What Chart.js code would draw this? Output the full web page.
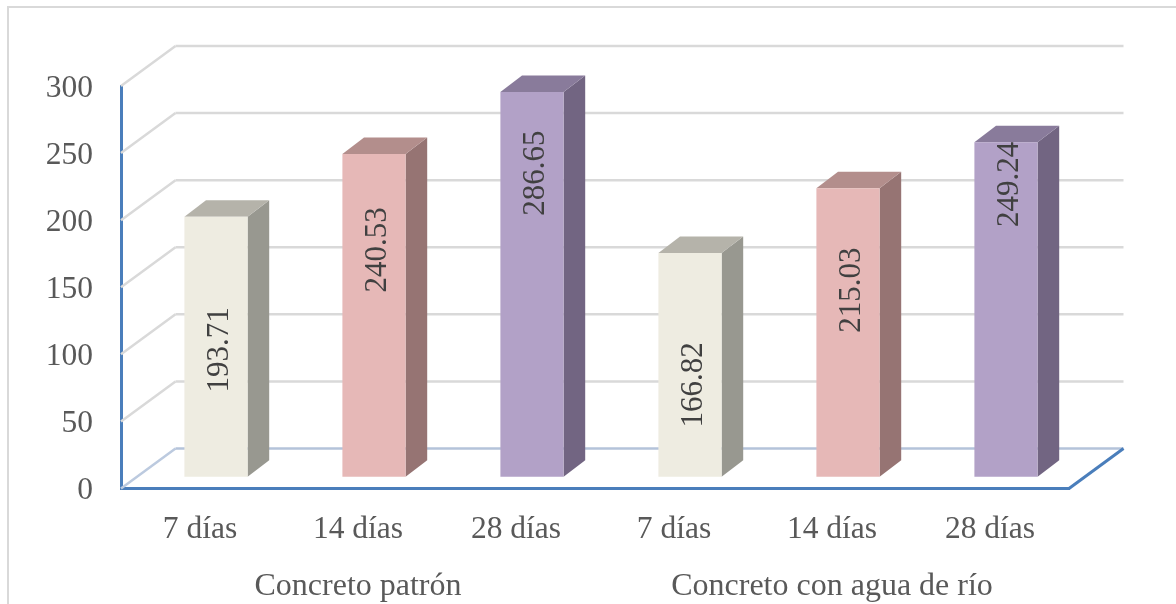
<!DOCTYPE html>
<html>
<head>
<meta charset="utf-8">
<script src="https://cdn.jsdelivr.net/npm/chart.js@4/dist/chart.umd.min.js"></script>
<style>
    html, body { margin: 0; height: 100%; background: #fff; overflow: hidden; }
    #frame { position: absolute; left: 7px; top: 6px; width: 1200px; height: 640px; border: 2px solid #d9d9d9; }
    #wrap { position: absolute; left: 0; top: 0; width: 1176px; height: 604px; }
</style>
</head>
<body>
<div id="frame"></div>
<div id="wrap"><canvas id="chart" width="1176" height="604"></canvas></div>
<script>
var ages = ["7 días", "14 días", "28 días", "7 días", "14 días", "28 días"];
var groups = ["Concreto patrón", "Concreto con agua de río"];
var patron = [193.71, 240.53, 286.65];
var rio = [166.82, 215.03, 249.24];
var yTicks = [0, 50, 100, 150, 200, 250, 300];

// front, side and top shade of each bar
var frontColors = ["#eeece1", "#e6b8b7", "#b2a1c7", "#eeece1", "#e6b8b7", "#b2a1c7"];
var sideColors = ["#989890", "#967473", "#726582", "#989890", "#967473", "#726582"];
var topColors = ["#b5b3aa", "#b38e8c", "#897b9b", "#b5b3aa", "#b38e8c", "#897b9b"];

// how far below the top of its bar each value label is centered
var labelDrop = [133, 96, 81, 132, 102, 42];

var textFont = "'Liberation Serif', serif";
var wallDepth = { x: 54.5, y: -40 };
var barShift = { x: 16, y: -11.8 };
var barDepth = { x: 21.6, y: -16.5 };

function line(ctx, x1, y1, x2, y2) {
    ctx.beginPath();
    ctx.moveTo(x1, y1);
    ctx.lineTo(x2, y2);
    ctx.stroke();
}

function poly(ctx, pts, color) {
    ctx.fillStyle = color;
    ctx.beginPath();
    ctx.moveTo(pts[0][0], pts[0][1]);
    for (let i = 1; i < pts.length; i++) {
        ctx.lineTo(pts[i][0], pts[i][1]);
    }
    ctx.closePath();
    ctx.fill();
}

var box3d = {
    id: "box3d",
    beforeDatasetsDraw(chart) {
        let ctx = chart.ctx;
        let area = chart.chartArea;
        let yScale = chart.scales.y;
        ctx.save();
        ctx.lineWidth = 2.5;
        // back wall and side wall lines
        for (let v of yTicks) {
            let y = yScale.getPixelForValue(v);
            ctx.strokeStyle = v == 0 ? "#bccadf" : "#d9d9d9";
            line(ctx, area.left, y, area.left + wallDepth.x, y + wallDepth.y);
            ctx.strokeStyle = v == 0 ? "#b4c3da" : "#d9d9d9";
            line(ctx, area.left + wallDepth.x, y + wallDepth.y, area.right + wallDepth.x, y + wallDepth.y);
        }
        // right edge of the floor
        ctx.strokeStyle = "#4a7ebb";
        ctx.lineWidth = 3;
        line(ctx, area.right, area.bottom, area.right + wallDepth.x, area.bottom + wallDepth.y);

        // side and top faces, the library draws the front face afterwards
        ctx.translate(barShift.x, barShift.y);
        chart.getDatasetMeta(0).data.forEach(function (bar, i) {
            let l = bar.x - bar.width / 2;
            let r = bar.x + bar.width / 2;
            let dx = barDepth.x;
            let dy = barDepth.y;
            poly(ctx, [[r, bar.y], [r + dx, bar.y + dy], [r + dx, bar.base + dy], [r, bar.base]], sideColors[i]);
            poly(ctx, [[l, bar.y], [l + dx, bar.y + dy], [r + dx, bar.y + dy], [r, bar.y]], topColors[i]);
        });
        ctx.restore();
        ctx.save();
        ctx.translate(barShift.x, barShift.y);
    },
    afterDatasetsDraw(chart) {
        let ctx = chart.ctx;
        ctx.restore();
        ctx.save();
        ctx.font = "31px " + textFont;
        ctx.fillStyle = "#404040";
        ctx.textAlign = "center";
        ctx.textBaseline = "middle";
        let values = chart.data.datasets[0].data;
        chart.getDatasetMeta(0).data.forEach(function (bar, i) {
            ctx.save();
            ctx.translate(bar.x + barShift.x + 3.5, bar.y + barShift.y + labelDrop[i]);
            ctx.rotate(-Math.PI / 2);
            ctx.fillText(values[i].toFixed(2), 0, 0);
            ctx.restore();
        });
        ctx.restore();
    },
};

new Chart(document.getElementById("chart"), {
    type: "bar",
    data: {
        labels: ages,
        datasets: [
            {
                data: patron.concat(rio),
                backgroundColor: frontColors,
                borderWidth: 0,
                barPercentage: 0.4,
                categoryPercentage: 1,
                clip: false,
            },
        ],
    },
    options: {
        responsive: false,
        animation: false,
        layout: { padding: { top: 86, right: 107, left: 0, bottom: 0 } },
        plugins: {
            legend: { display: false },
            title: { display: false },
            tooltip: { enabled: false },
        },
        scales: {
            y: {
                min: 0,
                max: 300,
                afterFit(scale) {
                    scale.width = 121;
                },
                afterBuildTicks(scale) {
                    scale.ticks = yTicks.map((v) => ({ value: v }));
                },
                grid: { display: false },
                border: { display: true, color: "#4a7ebb", width: 3 },
                ticks: {
                    padding: 20,
                    labelOffset: 2.5,
                    color: "#595959",
                    font: { family: textFont, size: 31.5 },
                },
            },
            x: {
                position: "bottom",
                afterFit(scale) {
                    scale.height = 60;
                },
                grid: { display: false },
                border: { display: true, color: "#4a7ebb", width: 3 },
                ticks: {
                    padding: 14,
                    autoSkip: false,
                    maxRotation: 0,
                    color: "#595959",
                    font: { family: textFont, size: 31.5 },
                },
            },
            x2: {
                type: "category",
                labels: groups,
                position: "bottom",
                offset: true,
                afterFit(scale) {
                    scale.height = 55.5;
                },
                grid: { display: false },
                border: { display: false },
                ticks: {
                    padding: 11,
                    autoSkip: false,
                    maxRotation: 0,
                    color: "#595959",
                    font: { family: textFont, size: 32 },
                },
            },
        },
    },
    plugins: [box3d],
});
</script>
</body>
</html>
